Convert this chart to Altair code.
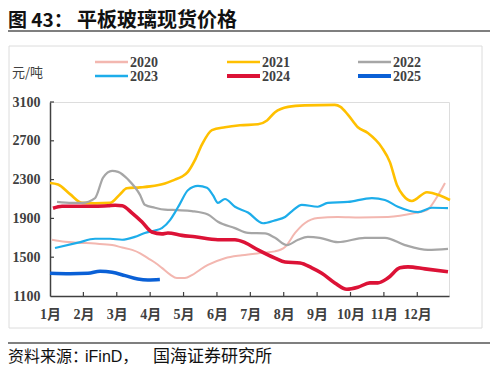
import altair as alt
import pandas as pd

# ---------------- data ----------------
month_labels = ["1月", "2月", "3月", "4月", "5月", "6月", "7月", "8月", "9月", "10月", "11月", "12月"]
y_ticks = [1100, 1500, 1900, 2300, 2700, 3100]
years = ["2020", "2021", "2022", "2023", "2024", "2025"]

m2020 = [0.06, 0.45, 0.84, 1.35, 1.86, 2.16, 2.46, 2.7, 2.93, 3.14, 3.35, 3.6, 3.8, 4.04, 4.25, 4.49, 4.73,
         5.24, 5.75, 6.35, 6.74, 7.04, 7.34, 7.63, 8.02, 8.62, 9.28, 10.12, 10.93, 11.29, 11.59, 11.83]
v2020 = [1680, 1660, 1650, 1640, 1625, 1600, 1575, 1540, 1490, 1445, 1390, 1320, 1285, 1285, 1315, 1370, 1420,
         1490, 1520, 1545, 1560, 1605, 1750, 1850, 1905, 1915, 1910, 1915, 1955, 1985, 2120, 2265]

m2021 = [0, 0.24, 0.6, 0.96, 1.35, 1.8, 2.1, 2.3, 2.7, 3.0, 3.44, 3.74, 3.95, 4.13, 4.34, 4.55, 4.85, 5.24,
         5.69, 6.23, 6.5, 6.74, 7.13, 7.63, 8.53, 8.7, 8.92, 9.22, 9.52, 9.94, 10.18, 10.39, 10.57, 10.84,
         11.29, 11.47, 11.98]
v2021 = [2265, 2250, 2150, 2060, 2055, 2060, 2150, 2210, 2220, 2230, 2260, 2300, 2330, 2380, 2500, 2660, 2810,
         2840, 2860, 2870, 2910, 2995, 3050, 3065, 3070, 3050, 2970, 2840, 2780, 2630, 2480, 2245, 2140, 2080,
         2170, 2160, 2090]

m2022 = [0.21, 0.66, 0.96, 1.35, 1.59, 1.86, 2.04, 2.34, 2.7, 2.84, 3.14, 3.44, 3.83, 4.25, 4.73, 5.03, 5.54,
         5.93, 6.44, 6.74, 7.1, 7.43, 7.72, 8.08, 8.62, 9.43, 10.03, 10.63, 11.32, 11.92]
v2022 = [2070, 2060, 2060, 2110, 2320, 2390, 2380, 2300, 2140, 2040, 2010, 1990, 1985, 1975, 1940, 1865, 1800,
         1750, 1745, 1700, 1625, 1680, 1710, 1700, 1655, 1700, 1700, 1625, 1575, 1585]

m2023 = [0.15, 0.84, 1.35, 1.8, 2.16, 2.54, 2.84, 3.14, 3.35, 3.6, 3.74, 3.89, 4.13, 4.43, 4.7, 4.88, 5.03,
         5.24, 5.54, 5.93, 6.38, 6.74, 7.04, 7.25, 7.54, 8.02, 8.32, 8.92, 9.64, 10.03, 10.42, 11.02, 11.44, 11.92]
v2023 = [1595, 1650, 1690, 1690, 1680, 1710, 1750, 1775, 1800, 1885, 1960, 2050, 2190, 2235, 2215, 2140, 2060,
         2100, 2020, 1960, 1850, 1880, 1915, 1975, 2040, 2020, 2060, 2070, 2110, 2090, 2020, 1965, 2010, 2005]

m2024 = [0.09, 0.36, 0.9, 1.35, 1.74, 1.95, 2.16, 2.46, 2.75, 3.05, 3.35, 3.53, 3.95, 4.34, 5.03, 5.54, 5.84,
         6.23, 6.74, 7.04, 7.49, 7.84, 8.14, 8.53, 8.89, 9.22, 9.58, 9.82, 10.12, 10.48, 10.72, 11.23, 11.92]
v2024 = [2005, 2025, 2025, 2025, 2030, 2035, 2030, 1955, 1865, 1760, 1740, 1750, 1725, 1710, 1680, 1680, 1650,
         1575, 1490, 1450, 1440, 1390, 1335, 1235, 1170, 1190, 1235, 1235, 1285, 1390, 1400, 1380, 1350]

m2025 = [0, 0.6, 1.14, 1.5, 1.86, 2.25, 2.63, 2.93, 3.29]
v2025 = [1335, 1330, 1335, 1355, 1345, 1310, 1275, 1265, 1270]

series_m = [m2020, m2021, m2022, m2023, m2024, m2025]
series_v = [v2020, v2021, v2022, v2023, v2024, v2025]

# ---------------- styles ----------------
colors = ["#F3B7B0", "#FFC000", "#A6A6A6", "#1DADEA", "#DC1236", "#0A60D6"]
widths = [2, 2.6, 2.2, 2.2, 3.6, 3.6]
leg_widths = [2.6, 2.6, 2.6, 2.6, 3.8, 3.8]
txt = "#404040"
serif = "Liberation Serif, Noto Sans CJK SC"
cjk = "Noto Sans CJK SC"

W, H = 399, 194

xs = alt.Scale(domain=[0, 11.95], nice=False, zero=False)
ys = alt.Scale(domain=[1100, 3100], nice=False, zero=False)

label_expr = "[" + ",".join("'" + s + "'" for s in month_labels) + "][datum.value]"

x_axis = alt.Axis(values=list(range(12)), labelExpr=label_expr,
                  title=None, grid=False, ticks=False, domainColor=txt, domainWidth=1.5,
                  labelFont=serif, labelFontSize=14, labelFontWeight="bold", labelColor=txt,
                  labelPadding=11, labelAngle=0, labelOverlap=False, labelFlush=False)
y_axis = alt.Axis(values=y_ticks, format="d", title=None, grid=False, ticks=False,
                  domainColor=txt, domainWidth=1.5, labelFont=serif, labelFontSize=14,
                  labelFontWeight="bold", labelColor=txt, labelPadding=10,
                  labelOverlap=False, labelFlush=False)

layers = []

# frame box and rules
one = pd.DataFrame({"a": [0]})
layers.append(alt.Chart(one).mark_rect(filled=False, stroke="#dcdcdc", strokeWidth=1).encode(
    x=alt.value(-41), x2=alt.value(432), y=alt.value(-56), y2=alt.value(226)))
layers.append(alt.Chart(one).mark_rule(color="#555555", strokeWidth=1.5).encode(
    x=alt.value(-42), x2=alt.value(440), y=alt.value(-71)))
layers.append(alt.Chart(one).mark_rule(color="#555555", strokeWidth=1.5).encode(
    x=alt.value(-42), x2=alt.value(440), y=alt.value(241)))

# data lines
for i, (yr, ms, vs, c, w) in enumerate(zip(years, series_m, series_v, colors, widths)):
    df = pd.DataFrame({"m": ms, "v": vs})
    layers.append(alt.Chart(df).mark_line(color=c, strokeWidth=w, interpolate="monotone").encode(
        x=alt.X("m:Q", scale=xs, axis=x_axis),
        y=alt.Y("v:Q", scale=ys, axis=y_axis),
    ))

# inward ticks
xt = pd.DataFrame({"m": list(range(1, 12))})
layers.append(alt.Chart(xt).mark_rule(color=txt, strokeWidth=1.2).encode(
    x=alt.X("m:Q", scale=xs, axis=x_axis), y=alt.value(H), y2=alt.value(H - 4)))
yt = pd.DataFrame({"v": y_ticks[1:]})
layers.append(alt.Chart(yt).mark_rule(color=txt, strokeWidth=1.2).encode(
    y=alt.Y("v:Q", scale=ys, axis=y_axis), x=alt.value(0), x2=alt.value(4)))

# legend
leg_x = [45, 177, 308]
leg_y = [-40, -26]
for i, yr in enumerate(years):
    col, row = i % 3, i // 3
    x0 = leg_x[col]
    yy = leg_y[row]
    layers.append(alt.Chart(one).mark_rule(color=colors[i], strokeWidth=leg_widths[i]).encode(
        x=alt.value(x0), x2=alt.value(x0 + 33), y=alt.value(yy)))
    layers.append(alt.Chart(one).mark_text(text=yr, font=serif, fontSize=14, fontWeight="bold",
                                           color=txt, align="left", baseline="middle").encode(
        x=alt.value(x0 + 35), y=alt.value(yy + 1)))

# unit label
layers.append(alt.Chart(one).mark_text(text="元/吨", font=cjk, fontSize=13, color=txt,
                                       align="left", baseline="middle").encode(
    x=alt.value(-38), y=alt.value(-29)))

# title
layers.append(alt.Chart(one).mark_text(text="图 43：", font=cjk, fontSize=19, fontWeight="bold",
                                       color="#111111", align="left", baseline="middle").encode(
    x=alt.value(-42), y=alt.value(-81)))
layers.append(alt.Chart(one).mark_text(text="平板玻璃现货价格", font=cjk, fontSize=20, fontWeight="bold",
                                       color="#111111", align="left", baseline="middle").encode(
    x=alt.value(27), y=alt.value(-81)))

# source
layers.append(alt.Chart(one).mark_text(text="资料来源：", font=cjk, fontSize=16, color="#111111",
                                       align="left", baseline="middle").encode(
    x=alt.value(-42), y=alt.value(255)))
layers.append(alt.Chart(one).mark_text(text="iFinD，", font="Liberation Sans, Noto Sans CJK SC", fontSize=16,
                                       color="#111111", align="left", baseline="middle").encode(
    x=alt.value(35), y=alt.value(255)))
layers.append(alt.Chart(one).mark_text(text="国海证券研究所", font=cjk, fontSize=17, color="#111111",
                                       align="left", baseline="middle").encode(
    x=alt.value(103), y=alt.value(255)))

chart = alt.layer(*layers).properties(
    width=W, height=H,
    padding={"left": 42, "top": 94, "right": 41, "bottom": 70},
    autosize=alt.AutoSizeParams(type="none"),
).configure_view(stroke=None).configure(background="white")

chart.save("out.html", embed_options={"renderer": "svg", "actions": False})
